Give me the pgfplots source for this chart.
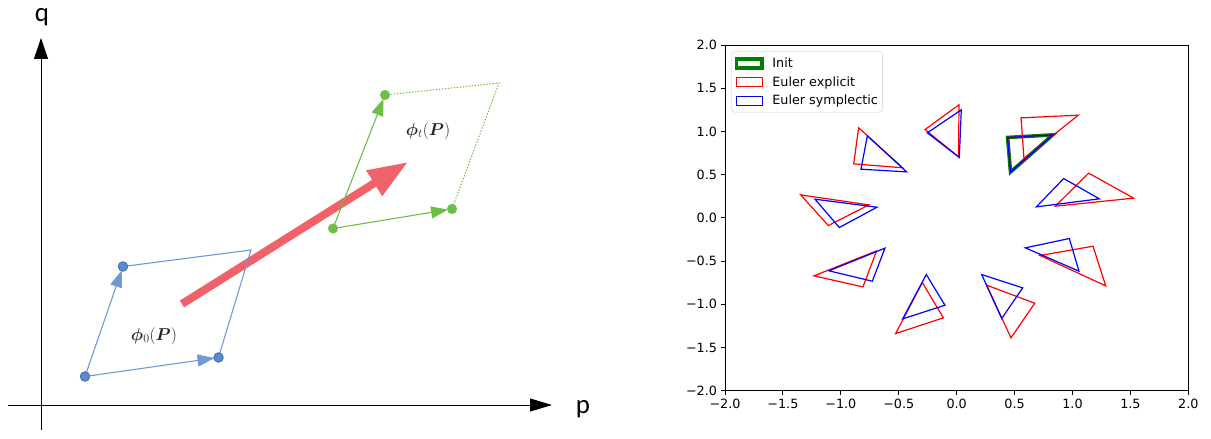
\documentclass[border=0pt]{standalone}
\usepackage{pgfplots}
\pgfplotsset{compat=1.18}
\usepackage{fontspec}
\setmainfont{DejaVu Sans}
\newfontfamily\carlito{Carlito}
\usepackage{bm}
\usetikzlibrary{arrows.meta}
\definecolor{dblue}{HTML}{6E9BD4}
\definecolor{dbluedot}{HTML}{5B8BC8}
\definecolor{dbluedotedge}{HTML}{3F6FB0}
\definecolor{dgreen}{HTML}{6CBF44}
\definecolor{dred}{HTML}{F0626A}
\definecolor{mplgreen}{HTML}{008000}
\begin{document}
\begin{tikzpicture}
% ---------------- left diagram ----------------
\begin{axis}[at={(0bp,0bp)}, anchor=south west, scale only axis,
  width=600bp, height=439bp, xmin=0, xmax=600, ymin=0, ymax=439,
  hide axis, clip=false]
\addplot[black, line width=0.9bp, -{Triangle[length=21bp,width=14bp]}] coordinates {(41,9) (41,401)};
\addplot[black, line width=0.9bp, -{Triangle[length=22bp,width=13bp]}] coordinates {(8,34) (552,34)};
% red thick arrow
\addplot[dred, line width=8bp, -{Triangle[length=40bp,width=28bp]}] coordinates {(182,135) (408,277)};
% blue parallelogram
\addplot[dblue, line width=1.1bp] coordinates {(123,172.5) (251,189) (218.5,81.5)};
\addplot[dblue, line width=1.1bp, -{Triangle[length=17bp,width=12bp]}, shorten >=4bp] coordinates {(85,62.5) (123,172.5)};
\addplot[dblue, line width=1.1bp, -{Triangle[length=17bp,width=12bp]}, shorten >=4bp] coordinates {(85,62.5) (218.5,81.5)};
\addplot[only marks, mark=*, mark size=4.8bp, mark options={fill=dbluedot, draw=dbluedotedge, line width=0.8bp}] coordinates {(85,62.5) (123,172.5) (218.5,81.5)};
% green parallelogram
\addplot[dgreen, line width=1bp, dash pattern=on 1.5bp off 1.5bp] coordinates {(385,344) (499,356) (452,230)};
\addplot[dgreen, line width=1.1bp, -{Triangle[length=17bp,width=12bp]}, shorten >=4bp] coordinates {(333,210.5) (385,344)};
\addplot[dgreen, line width=1.1bp, -{Triangle[length=17bp,width=12bp]}, shorten >=4bp] coordinates {(333,210.5) (452,230)};
\addplot[only marks, mark=*, mark size=4.8bp, mark options={fill=dgreen, draw=dgreen}] coordinates {(333,210.5) (385,344) (452,230)};
\node[font=\fontsize{18.5}{20}\selectfont, text=black!85] at (axis cs:154,103) {$\bm{\phi}_0(\bm{P})$};
\node[font=\fontsize{18.5}{20}\selectfont, text=black!85] at (axis cs:428,308) {$\bm{\phi}_t(\bm{P})$};
\node[font=\carlito\fontsize{27}{30}\selectfont, anchor=base, inner sep=0pt] at (axis cs:42,417.3) {q};
\node[font=\carlito\fontsize{27}{30}\selectfont, anchor=base, inner sep=0pt] at (axis cs:583,26) {p};
\end{axis}
% ---------------- right chart ----------------
\begin{axis}[at={(725bp,48.3bp)}, anchor=south west, scale only axis,
  width=463.3bp, height=345.7bp,
  xmin=-2, xmax=2, ymin=-2, ymax=2,
  xtick={-2,-1.5,-1,-0.5,0,0.5,1,1.5,2},
  ytick={-2,-1.5,-1,-0.5,0,0.5,1,1.5,2},
  xticklabels={−2.0,−1.5,−1.0,−0.5,0.0,0.5,1.0,1.5,2.0},
  yticklabels={−2.0,−1.5,−1.0,−0.5,0.0,0.5,1.0,1.5,2.0},
  tick align=outside, xtick pos=bottom, ytick pos=left,
  major tick length=4.5bp,
  axis line style={line width=1bp},
  every tick/.style={black, line width=1bp},
  tick label style={font=\fontsize{12.8}{15}\selectfont},
  legend style={at={(0,1)}, anchor=north west, xshift=6.5bp, yshift=-6.5bp,
    draw=black!20, rounded corners=3bp, fill=white,
    font=\fontsize{12.8}{15}\selectfont, inner xsep=3bp, inner ysep=4.5bp,
    row sep=4.5bp, nodes={inner sep=1.5bp},
    /tikz/every odd column/.append style={column sep=7bp}},
  legend cell align=left,
  legend image code/.code={\draw[#1, sharp corners, line join=miter] (0bp,-4.5bp) rectangle (25.6bp,4.5bp);},
  clip=false]
% Init
\addplot[mplgreen, line width=3.6bp, line join=miter] coordinates {(0.44,0.93) (0.83,0.96) (0.465,0.53)} -- cycle;
\addlegendentry{Init}
% Euler explicit
\addplot[red, line width=1.2bp, line join=miter] coordinates {(0.44,0.93) (0.83,0.96) (0.465,0.53)} -- cycle;
\addlegendentry{Euler explicit}
\addplot[red, line width=1.2bp, line join=miter, forget plot] coordinates {(0.556,1.157) (1.051,1.188) (0.581,0.687)} -- cycle;
\addplot[red, line width=1.2bp, line join=miter, forget plot] coordinates {(1.140,0.517) (1.528,0.228) (0.852,0.135)} -- cycle;
\addplot[red, line width=1.2bp, line join=miter, forget plot] coordinates {(0.720,-0.436) (1.177,-0.328) (1.287,-0.787)} -- cycle;
\addplot[red, line width=1.2bp, line join=miter, forget plot] coordinates {(0.259,-0.779) (0.674,-0.988) (0.469,-1.389)} -- cycle;
\addplot[red, line width=1.2bp, line join=miter, forget plot] coordinates {(-0.296,-0.748) (-0.115,-1.157) (-0.527,-1.339)} -- cycle;
\addplot[red, line width=1.2bp, line join=miter, forget plot] coordinates {(-0.691,-0.382) (-0.809,-0.799) (-1.232,-0.671)} -- cycle;
\addplot[red, line width=1.2bp, line join=miter, forget plot] coordinates {(-1.347,0.266) (-0.757,0.150) (-1.108,-0.089)} -- cycle;
\addplot[red, line width=1.2bp, line join=miter, forget plot] coordinates {(-0.846,1.042) (-0.889,0.625) (-0.466,0.579)} -- cycle;
\addplot[red, line width=1.2bp, line join=miter, forget plot] coordinates {(0.020,1.308) (-0.273,1.022) (0.017,0.706)} -- cycle;
% Euler symplectic
\addplot[blue, line width=1.2bp, line join=miter] coordinates {(0.44,0.93) (0.83,0.96) (0.465,0.53)} -- cycle;
\addlegendentry{Euler symplectic}
\addplot[blue, line width=1.2bp, line join=miter, forget plot] coordinates {(0.924,0.455) (1.232,0.220) (0.688,0.127)} -- cycle;
\addplot[blue, line width=1.2bp, line join=miter, forget plot] coordinates {(0.593,-0.347) (0.973,-0.239) (1.056,-0.617)} -- cycle;
\addplot[blue, line width=1.2bp, line join=miter, forget plot] coordinates {(0.216,-0.656) (0.570,-0.810) (0.389,-1.165)} -- cycle;
\addplot[blue, line width=1.2bp, line join=miter, forget plot] coordinates {(-0.262,-0.656) (-0.101,-1.011) (-0.466,-1.169)} -- cycle;
\addplot[blue, line width=1.2bp, line join=miter, forget plot] coordinates {(-0.619,-0.351) (-0.728,-0.733) (-1.102,-0.613)} -- cycle;
\addplot[blue, line width=1.2bp, line join=miter, forget plot] coordinates {(-1.223,0.216) (-0.688,0.123) (-1.013,-0.112)} -- cycle;
\addplot[blue, line width=1.2bp, line join=miter, forget plot] coordinates {(-0.771,0.949) (-0.826,0.563) (-0.432,0.532)} -- cycle;
\addplot[blue, line width=1.2bp, line join=miter, forget plot] coordinates {(0.040,1.250) (-0.253,0.984) (0.023,0.698)} -- cycle;
\end{axis}
\pgfresetboundingbox
\useasboundingbox (0bp,0bp) rectangle (1211bp,439bp);
\end{tikzpicture}
\end{document}
